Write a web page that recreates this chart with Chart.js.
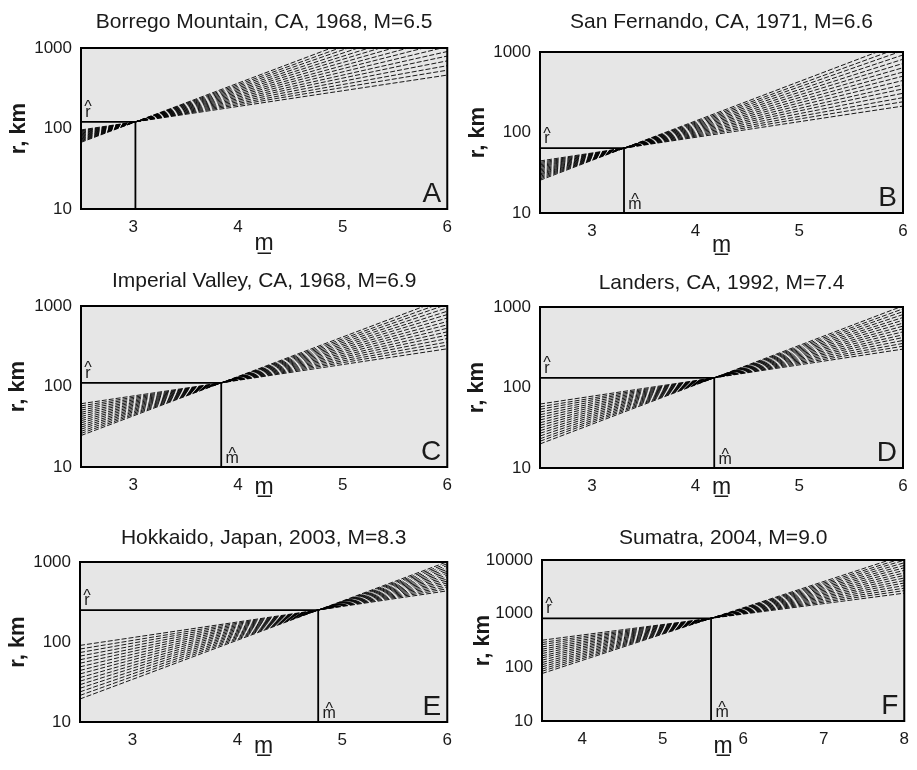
<!DOCTYPE html>
<html>
<head>
<meta charset="utf-8">
<title>Magnitude / distance fans</title>
<script src="https://cdn.jsdelivr.net/npm/chart.js@4.4.1/dist/chart.umd.min.js"></script>
<style>
  body { margin: 0; background: #fff; }
  #wrap { position: relative; width: 917px; height: 770px; }
  #wrap canvas { position: absolute; }
</style>
</head>
<body>
<div id="wrap">
  <canvas id="cA"></canvas>
  <canvas id="cB"></canvas>
  <canvas id="cC"></canvas>
  <canvas id="cD"></canvas>
  <canvas id="cE"></canvas>
  <canvas id="cF"></canvas>
</div>
<script>
// ---- data ----
const titles = ['Borrego Mountain, CA, 1968, M=6.5', 'San Fernando, CA, 1971, M=6.6',
  'Imperial Valley, CA, 1968, M=6.9', 'Landers, CA, 1992, M=7.4',
  'Hokkaido, Japan, 2003, M=8.3', 'Sumatra, 2004, M=9.0'];
const letters = ['A', 'B', 'C', 'D', 'E', 'F'];
const mMin = [2.5, 2.5, 2.5, 2.5, 2.5, 3.5];
const mMax = [6, 6, 6, 6, 6, 8];
const rMax = [1000, 1000, 1000, 1000, 1000, 10000];
const xTicks = [[3, 4, 5, 6], [3, 4, 5, 6], [3, 4, 5, 6], [3, 4, 5, 6], [3, 4, 5, 6], [4, 5, 6, 7, 8]];
const yTicks = [[10, 100, 1000], [10, 100, 1000], [10, 100, 1000], [10, 100, 1000], [10, 100, 1000], [10, 100, 1000, 10000]];
const mHat = [3.02, 3.31, 3.84, 4.18, 4.77, 5.6];
const rHat = [121, 64, 111, 132, 251, 820];
const showMHat = [false, true, true, true, true, true];

// fan lines: r at the left edge (mMin) and at the right edge (mMax)
const leftA = [96, 93.5, 91.5, 89.3, 87.3, 85.3, 83.2, 81.3, 79.4, 77.6, 75.7, 74.0, 72.3, 70.6, 69.0, 67.3];
const rightA = [461, 530, 603, 692, 794, 904, 1038, 1189, 1355, 1556, 1782, 2032, 2328, 2673, 3047, 3491];
const leftB = [44.3, 42.6, 41.1, 39.6, 38.2, 36.9, 35.5, 34.2, 33.0, 31.8, 30.6, 29.6, 28.5, 27.5, 26.5, 25.5];
const rightB = [213, 241, 271, 307, 348, 391, 443, 501, 564, 638, 721, 813, 919, 1040, 1169, 1324];
const leftC = [61.1, 57.4, 54.1, 50.9, 47.8, 45.1, 42.4, 39.9, 37.6, 35.4, 33.2, 31.3, 29.5, 27.7, 26.1, 24.6];
const rightC = [294, 325, 357, 394, 435, 478, 529, 584, 642, 709, 783, 861, 951, 1050, 1154, 1275];
const leftD = [62.3, 57.6, 53.6, 49.6, 45.9, 42.6, 39.5, 36.5, 33.9, 31.4, 29.1, 27.0, 25.0, 23.1, 21.5, 19.9];
const rightD = [300, 326, 353, 384, 418, 452, 492, 535, 579, 630, 685, 741, 806, 877, 949, 1032];
const leftE = [90.7, 81.7, 73.9, 66.6, 60.0, 54.3, 48.9, 44.1, 39.9, 35.9, 32.4, 29.3, 26.4, 23.8, 21.5, 19.4];
const rightE = [436, 462, 488, 516, 546, 576, 610, 645, 681, 721, 762, 805, 851, 901, 951, 1006];
const leftF = [320, 290, 265, 240, 218, 199, 181, 164, 150, 136, 123, 112, 102, 92.7, 84.5, 76.7];
const rightF = [2410, 2692, 2990, 3340, 3730, 4140, 4625, 5165, 5740, 6410, 7160, 7950, 8880, 9910, 11010, 12300];
const lefts = [leftA, leftB, leftC, leftD, leftE, leftF];
const rights = [rightA, rightB, rightC, rightD, rightE, rightF];

// ---- layout of the six panels (canvas box + axis sizes) ----
const boxes = [
  { id: 'cA', x: 0,   y: 0,   w: 460, h: 262, yW: 81, padR: 8,  tTop: 9.4,  tBot: 13.4, xH: 53, mPad: 4.3,  rPad: 5.3 },
  { id: 'cB', x: 460, y: 0,   w: 457, h: 262, yW: 80, padR: 14, tTop: 9.4,  tBot: 17.4, xH: 49, mPad: 2.8,  rPad: 4.3 },
  { id: 'cC', x: 0,   y: 255, w: 460, h: 262, yW: 81, padR: 8,  tTop: 13.9, tBot: 11.9, xH: 50, mPad: 15.8, rPad: 4.3 },
  { id: 'cD', x: 460, y: 255, w: 457, h: 262, yW: 80, padR: 14, tTop: 15.7, tBot: 11.1, xH: 49, mPad: 15.8, rPad: 3.3 },
  { id: 'cE', x: 0,   y: 510, w: 460, h: 260, yW: 80, padR: 8,  tTop: 15.7, tBot: 11.1, xH: 48, mPad: 9.8,  rPad: 4.3 },
  { id: 'cF', x: 460, y: 510, w: 457, h: 260, yW: 82, padR: 4,  tTop: 15.4, tBot: 9.4,  xH: 49, mPad: 9.8,  rPad: 9.3 }
];

const FONT = '"Liberation Sans", Arial, sans-serif';
const INK = '#1a1a1a';

// grey plot background, frame, hat labels and panel letter
const deco = {
  id: 'deco',
  beforeDatasetsDraw(chart) {
    const a = chart.chartArea, ctx = chart.ctx;
    ctx.save();
    ctx.fillStyle = '#e6e6e6';
    ctx.fillRect(a.left, a.top, a.width, a.height);
    ctx.restore();
  },
  afterDatasetsDraw(chart, args, o) {
    const a = chart.chartArea, ctx = chart.ctx;
    const xs = chart.scales.x, ys = chart.scales.y;
    ctx.save();
    ctx.strokeStyle = '#000';
    ctx.lineWidth = 2;
    ctx.strokeRect(a.left, a.top, a.width, a.height);

    ctx.fillStyle = INK;
    ctx.font = '28px ' + FONT;
    ctx.textAlign = 'right';
    ctx.textBaseline = 'alphabetic';
    ctx.fillText(o.letter, a.right - 6, a.bottom - 7);

    ctx.font = '16px ' + FONT;
    ctx.textAlign = 'center';
    const ry = ys.getPixelForValue(o.rHat);
    ctx.fillText('r', a.left + 7, ry - 5);
    ctx.fillText('^', a.left + 7, ry - 9.5);
    if (o.showM) {
      const mx = xs.getPixelForValue(o.mHat);
      ctx.fillText('m', mx + 11, a.bottom - 4);
      ctx.fillText('^', mx + 11, a.bottom - 8.5);
    }
    ctx.restore();
  }
};

boxes.forEach(function (b, i) {
  const cv = document.getElementById(b.id);
  cv.width = b.w;
  cv.height = b.h;
  cv.style.left = b.x + 'px';
  cv.style.top = b.y + 'px';

  const datasets = lefts[i].map(function (lv, k) {
    return {
      data: [{ x: mMin[i], y: lv }, { x: mHat[i], y: rHat[i] }, { x: mMax[i], y: rights[i][k] }],
      borderColor: '#000',
      borderWidth: 0.9,
      borderDash: [5, 2],
      pointRadius: 0
    };
  });
  // solid guide lines to the axes
  datasets.push({
    data: [{ x: mMin[i], y: rHat[i] }, { x: mHat[i], y: rHat[i] }, { x: mHat[i], y: 10 }],
    borderColor: '#000',
    borderWidth: 1.8,
    pointRadius: 0
  });

  new Chart(cv, {
    type: 'line',
    data: { datasets: datasets },
    plugins: [deco],
    options: {
      responsive: false,
      animation: false,
      events: [],
      layout: { padding: { left: 0, right: b.padR, top: 0, bottom: 0 } },
      plugins: {
        legend: { display: false },
        tooltip: { enabled: false },
        title: {
          display: true,
          text: titles[i],
          fullSize: false,
          color: INK,
          font: { family: FONT, size: 21, weight: 'normal' },
          padding: { top: b.tTop, bottom: b.tBot }
        },
        deco: { letter: letters[i], rHat: rHat[i], mHat: mHat[i], showM: showMHat[i] }
      },
      scales: {
        x: {
          type: 'linear',
          min: mMin[i],
          max: mMax[i],
          grid: { display: false, drawTicks: false },
          border: { display: false },
          afterBuildTicks: function (s) { s.ticks = xTicks[i].map(function (v) { return { value: v }; }); },
          afterFit: function (s) { s.height = b.xH; },
          ticks: { padding: 8, color: INK, font: { family: FONT, size: 17 }, maxRotation: 0 },
          title: {
            display: true,
            text: 'm\u0332',
            color: INK,
            font: { family: FONT, size: 23 },
            padding: { top: 0, bottom: b.mPad }
          }
        },
        y: {
          type: 'logarithmic',
          min: 10,
          max: rMax[i],
          grid: { display: false, drawTicks: false },
          border: { display: false },
          afterBuildTicks: function (s) { s.ticks = yTicks[i].map(function (v) { return { value: v }; }); },
          afterFit: function (s) { s.width = b.yW; },
          ticks: { padding: 9, color: INK, font: { family: FONT, size: 17 }, callback: function (v) { return String(v); } },
          title: {
            display: true,
            text: 'r, km',
            color: INK,
            font: { family: FONT, size: 22, weight: 'bold' },
            padding: { top: b.rPad, bottom: 0 }
          }
        }
      }
    }
  });
});
</script>
</body>
</html>
